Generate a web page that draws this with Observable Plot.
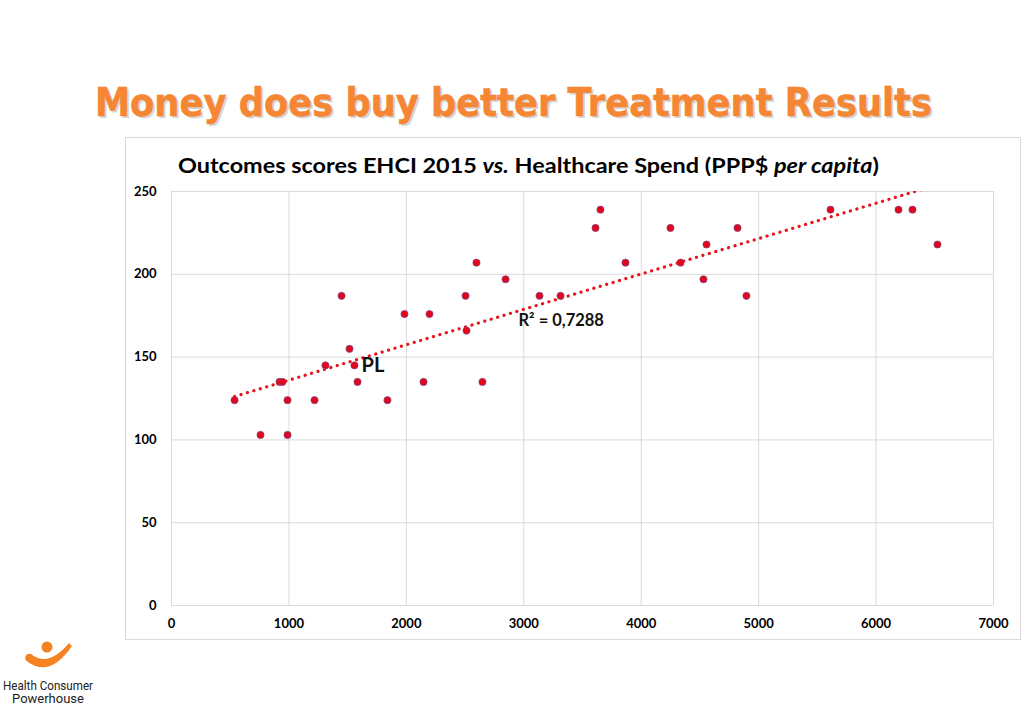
<!DOCTYPE html>
<html><head><meta charset="utf-8">
<script src="https://cdn.jsdelivr.net/npm/d3@7"></script>
<script src="https://cdn.jsdelivr.net/npm/@observablehq/plot@0.6"></script>
<style>
body{margin:0;background:#fff;width:1024px;height:709px;position:relative;overflow:hidden;font-family:Lato,"Open Sans",sans-serif;}
#title{position:absolute;left:0;top:70px;}
#box{position:absolute;left:125px;top:137px;width:896px;height:503px;border:1px solid #d9d9d9;box-sizing:border-box;}
#ctitle{position:absolute;left:178px;top:152px;font-family:Lato,sans-serif;font-weight:bold;font-size:21px;color:#000;white-space:nowrap;transform:scaleX(1.115);transform-origin:left center;}
#chart{position:absolute;left:125px;top:180px;}
#logo{position:absolute;left:0;top:630px;}
</style></head><body>
<svg id="title" width="1024" height="60">
  <text x="97" y="48" textLength="837" lengthAdjust="spacingAndGlyphs" font-family="DejaVu Sans" font-weight="bold" font-size="39" fill="#d6d6d6">Money does buy better Treatment Results</text>
  <text x="95" y="46" textLength="837" lengthAdjust="spacingAndGlyphs" font-family="DejaVu Sans" font-weight="bold" font-size="39" fill="#F58634" stroke="#F58634" stroke-width="0.6">Money does buy better Treatment Results</text>
</svg>
<div id="box"></div>
<div id="ctitle">Outcomes scores EHCI 2015 <i>vs.</i> Healthcare Spend (PPP$ <i>per capita</i>)</div>
<div id="chart"></div>
<svg id="logo" width="110" height="79">
  <circle cx="47" cy="17" r="5.5" fill="#F58220"/>
  <path d="M31 24 Q48 38 69 13 L72 16 Q50 48 28 32 A4.2 4.2 0 0 1 31 24 Z" fill="#F58220"/>
  <text x="48" y="60" text-anchor="middle" font-family="Liberation Sans Narrow, Roboto, sans-serif" font-size="13" fill="#222" textLength="90" lengthAdjust="spacingAndGlyphs">Health Consumer</text>
  <text x="48" y="73" text-anchor="middle" font-family="Liberation Sans Narrow, Roboto, sans-serif" font-size="13" fill="#222">Powerhouse</text>
</svg>
<script>
const spend = [537, 758, 920, 945, 988, 988, 1218, 1311, 1448, 1516, 1558, 1584, 1839, 1984, 2146, 2197, 2504, 2512, 2597, 2648, 2845, 3134, 3313, 3611, 3653, 3866, 4249, 4335, 4530, 4556, 4820, 4896, 5612, 6191, 6310, 6523];
const scores = [124, 103, 135, 135, 124, 103, 124, 145, 187, 155, 145, 135, 124, 176, 135, 176, 187, 166, 207, 135, 197, 187, 187, 228, 239, 207, 228, 207, 197, 218, 228, 187, 239, 239, 239, 218];
const xTicks = [0, 1000, 2000, 3000, 4000, 5000, 6000, 7000];
const yTicks = [0, 50, 100, 150, 200, 250];
const labelText = ["R² = 0,7288", "PL"];
const labelX = [2955, 1618];
const labelY = [172, 145];
const labelSize = [16.5, 20];

const data = spend.map((s, i) => ({spend: s, score: scores[i]}));
const labels = labelText.map((t, i) => ({text: t, x: labelX[i], y: labelY[i], size: labelSize[i]}));

const chart = Plot.plot({
  width: 897, height: 460,
  marginLeft: 46, marginRight: 29, marginTop: 11, marginBottom: 35,
  style: {fontFamily: "Lato, sans-serif", fontSize: "13px", fontWeight: "bold", color: "#000", background: "transparent"},
  x: {domain: [0, 7000]},
  y: {domain: [0, 250]},
  marks: [
    Plot.gridX(xTicks, {stroke: "#d9d9d9", strokeOpacity: 1, strokeWidth: 1}),
    Plot.gridY(yTicks, {stroke: "#d9d9d9", strokeOpacity: 1, strokeWidth: 1}),
    Plot.axisX(xTicks, {tickSize: 0, tickPadding: 13, label: null, fontWeight: "bold", tickFormat: d3.format("d")}),
    Plot.axisY(yTicks, {tickSize: 0, tickPadding: 15, label: null, fontWeight: "bold", tickFormat: d3.format("d")}),
    Plot.linearRegressionY(data, {x: "spend", y: "score", ci: 0, stroke: "#e8141c", strokeWidth: 3.2, strokeDasharray: "0.1,6.6", strokeLinecap: "round", clip: true}),
    Plot.dot(data, {x: "spend", y: "score", r: 3.6, fill: "#e2061c", stroke: "#7b4a8a", strokeWidth: 0.7}),
    Plot.text(labels, {x: "x", y: "y", text: "text", fontSize: "size", textAnchor: "start", fill: "#111", fontWeight: "bold"})
  ]
});
document.getElementById("chart").appendChild(chart);
</script>
</body></html>
